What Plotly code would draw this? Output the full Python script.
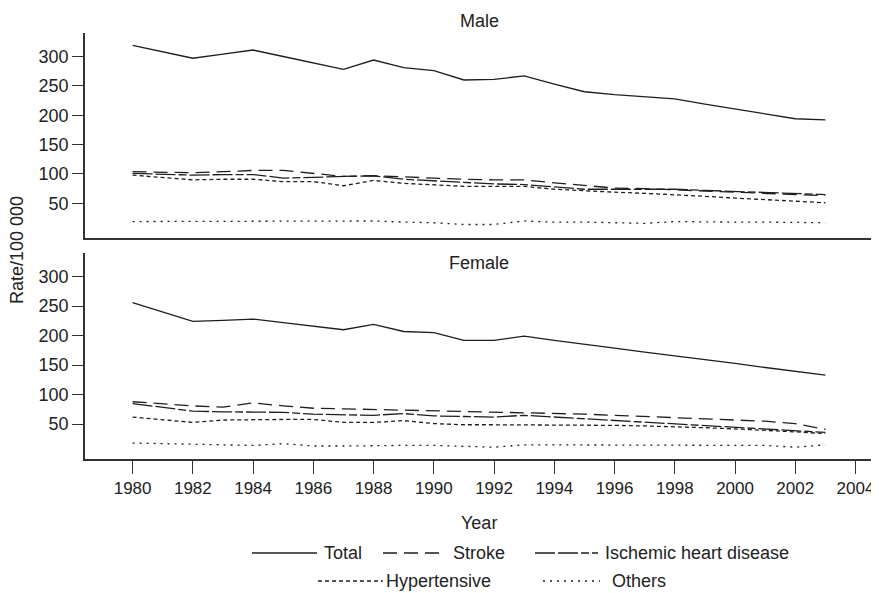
import plotly.graph_objects as go

years = list(range(1980, 2004))

total_m = [319, 308, 297, 304, 311, 300, 289, 278, 294, 281, 276, 260, 261, 267, 253, 240, 235, 231, 228, 219, 211, 202, 194, 192]
stroke_m = [104, 103, 102, 104, 106, 106, 101, 96, 97, 95, 92, 91, 90, 90, 85, 80, 76, 75, 73, 71, 69, 67, 66, 63]
ischemic_m = [101, 100, 98, 99, 99, 93, 94, 95, 97, 91, 88, 85, 83, 82, 78, 74, 74, 74, 74, 72, 70, 68, 67, 65]
hyper_m = [98, 94, 90, 91, 91, 87, 87, 80, 89, 84, 81, 79, 79, 79, 74, 71, 69, 67, 65, 62, 59, 56, 53, 51]
others_m = [19, 19, 19, 19, 19, 19, 19, 19, 20, 18, 17, 14, 14, 20, 18, 18, 17, 16, 19, 18, 18, 18, 18, 17]

total_f = [256, 240, 224, 226, 228, 222, 216, 210, 219, 207, 205, 192, 192, 199, 192, 186, 179, 172, 166, 159, 153, 146, 140, 133]
stroke_f = [88, 84, 81, 79, 86, 81, 77, 76, 75, 74, 73, 72, 71, 70, 68, 67, 65, 63, 61, 59, 57, 55, 51, 41]
ischemic_f = [85, 78, 72, 71, 71, 70, 67, 66, 65, 68, 64, 63, 62, 65, 62, 60, 57, 54, 51, 48, 45, 42, 39, 36]
hyper_f = [62, 57, 53, 57, 58, 58, 58, 53, 53, 56, 51, 49, 49, 49, 49, 48, 48, 47, 46, 44, 42, 40, 37, 34]
others_f = [18, 17, 16, 15, 14, 17, 13, 13, 14, 14, 14, 12, 11, 15, 15, 15, 15, 15, 15, 15, 15, 14, 11, 15]

series_names = ["Total", "Stroke", "Ischemic heart disease", "Hypertensive", "Others"]
y_ticks = [50, 100, 150, 200, 250, 300]
x_ticks = list(range(1980, 2005, 2))

dashes = ["solid", "14px,7px", "20px,3px,20px,3px,8px,3px", "4px,3px", "2px,5px"]
LINE = "#1e1e1e"
FONT = "Liberation Sans, Arial, Helvetica, sans-serif"

# page body margin offset (the figure div starts 8px in from the window edge)
OFF = 8
W, H = 879 - OFF, 593 - OFF
# plot-area frame in window pixels
L, R, T, B = 85, 873, 33, 459
def px(xp):
    return (xp - L) / (R - L)
def py(yp):
    return (B - yp) / (B - T)

fig = go.Figure()
male = [total_m, stroke_m, ischemic_m, hyper_m, others_m]
female = [total_f, stroke_f, ischemic_f, hyper_f, others_f]
for i, name in enumerate(series_names):
    fig.add_trace(go.Scatter(x=years, y=male[i], mode="lines", name=name,
                             line=dict(color=LINE, width=1.3, dash=dashes[i]),
                             xaxis="x", yaxis="y", showlegend=False))
for i, name in enumerate(series_names):
    fig.add_trace(go.Scatter(x=years, y=female[i], mode="lines", name=name,
                             line=dict(color=LINE, width=1.3, dash=dashes[i]),
                             xaxis="x2", yaxis="y2", showlegend=False))

# legend (two rows) drawn as line samples + labels
legend_rows = [553, 553, 553, 581, 581]
legend_line_x = [(252, 317), (383, 442), (535, 598), (318, 383), (543, 600)]
legend_text_x = [322, 451, 603, 384, 610]
shapes = []
annotations = []
for i, name in enumerate(series_names):
    x0, x1 = legend_line_x[i]
    shapes.append(dict(type="line", xref="paper", yref="paper",
                       x0=px(x0), x1=px(x1), y0=py(legend_rows[i]), y1=py(legend_rows[i]),
                       line=dict(color=LINE, width=1.3, dash=dashes[i])))
    annotations.append(dict(text=name, x=px(legend_text_x[i]), y=py(legend_rows[i]),
                            xref="paper", yref="paper", showarrow=False,
                            xanchor="left", yanchor="middle", font=dict(size=18)))

annotations += [
    dict(text="Male", x=0.5, y=py(21), xref="paper", yref="paper", showarrow=False,
         xanchor="center", yanchor="middle", font=dict(size=18)),
    dict(text="Female", x=0.5, y=py(263), xref="paper", yref="paper", showarrow=False,
         xanchor="center", yanchor="middle", font=dict(size=18)),
    dict(text="Rate/100 000", x=px(17), y=py(250), xref="paper", yref="paper",
         showarrow=False, textangle=-90, xanchor="center", yanchor="middle",
         font=dict(size=18)),
    dict(text="Year", x=0.5, y=py(523), xref="paper", yref="paper", showarrow=False,
         xanchor="center", yanchor="middle", font=dict(size=18)),
]

axis_common = dict(showgrid=False, zeroline=False, showline=True, linecolor="#333",
                   linewidth=1.5, automargin=False)
yax = dict(axis_common, range=[-9, 340], tickvals=y_ticks, ticks="outside", ticklen=11,
           tickcolor="#333", tickwidth=1.2, tickfont=dict(size=18, color="#222"))
x_range = [1978.42, 2004.58]
fig.update_layout(
    width=W, height=H,
    margin=dict(l=L - OFF, r=W - (R - OFF), t=T - OFF, b=H - (B - OFF), autoexpand=False),
    paper_bgcolor="white", plot_bgcolor="white",
    font=dict(family=FONT, color="#222", size=18),
    showlegend=False,
    xaxis=dict(axis_common, range=x_range, showticklabels=False, ticks="",
               anchor="y", domain=[0, 1]),
    yaxis=dict(yax, domain=[py(238), 1], anchor="x"),
    xaxis2=dict(axis_common, range=x_range, tickvals=x_ticks, ticks="outside",
                ticklen=13, tickcolor="#333", tickwidth=1.2,
                tickfont=dict(size=17, color="#222"), anchor="y2", domain=[0, 1]),
    yaxis2=dict(yax, domain=[0, py(253)], anchor="x2"),
    shapes=shapes,
    annotations=annotations,
)

fig.write_html("out.html")
